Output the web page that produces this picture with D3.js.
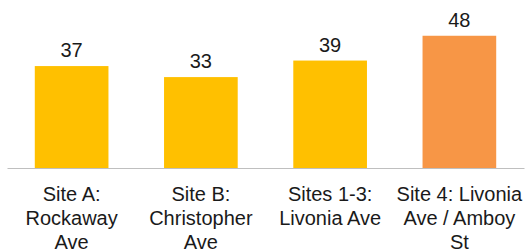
<!DOCTYPE html>
<style>
body { margin: 0; background: #fff; }
text { font-family: "Liberation Sans", Arial, sans-serif; fill: #1a1a1a; }
</style>
<svg width="526" height="250" id="chart"></svg>
<script src="https://d3js.org/d3.v7.min.js"></script>
<script>
var categories = ["Site A:\nRockaway\nAve", "Site B:\nChristopher\nAve", "Sites 1-3:\nLivonia Ave", "Site 4: Livonia\nAve / Amboy\nSt"];
var values = [37, 33, 39, 48];
var barColors = ["#FFC000", "#FFC000", "#FFC000", "#F79646"];

var svg = d3.select("#chart"),
    baseY = 168;

var x = d3.scaleBand()
    .domain(categories)
    .range([7, 524])
    .paddingInner(0.43)
    .paddingOuter(0.215);

var y = d3.scaleLinear()
    .domain([0, 60])
    .range([baseY, baseY - 60 * 2.755]);

svg.append("g").selectAll("rect")
  .data(values)
  .enter().append("rect")
    .attr("x", function(d, i) { return x(categories[i]); })
    .attr("y", function(d) { return y(d); })
    .attr("width", x.bandwidth())
    .attr("height", function(d) { return baseY - y(d); })
    .attr("fill", function(d, i) { return barColors[i]; });

svg.append("g").selectAll("text")
  .data(values)
  .enter().append("text")
    .attr("x", function(d, i) { return x(categories[i]) + x.bandwidth() / 2; })
    .attr("y", function(d) { return y(d) - 9; })
    .attr("text-anchor", "middle")
    .attr("font-size", 20)
    .text(function(d) { return d; });

var axis = svg.append("g")
    .attr("transform", "translate(0," + baseY + ")")
    .call(d3.axisBottom(x).tickSize(0).tickFormat(""));
axis.select(".domain").attr("stroke", "#bfbfbf").attr("stroke-width", 1.2);

var labels = svg.append("g").selectAll("text")
  .data(categories)
  .enter().append("text")
    .attr("x", function(d) { return x(d) + x.bandwidth() / 2; })
    .attr("y", 201)
    .attr("text-anchor", "middle")
    .attr("font-size", 20);

labels.selectAll("tspan")
  .data(function(d) { return d.split("\n"); })
  .enter().append("tspan")
    .attr("x", function() { return d3.select(this.parentNode).attr("x"); })
    .attr("dy", function(d, i) { return i ? 24 : 0; })
    .text(function(d) { return d; });
</script>
